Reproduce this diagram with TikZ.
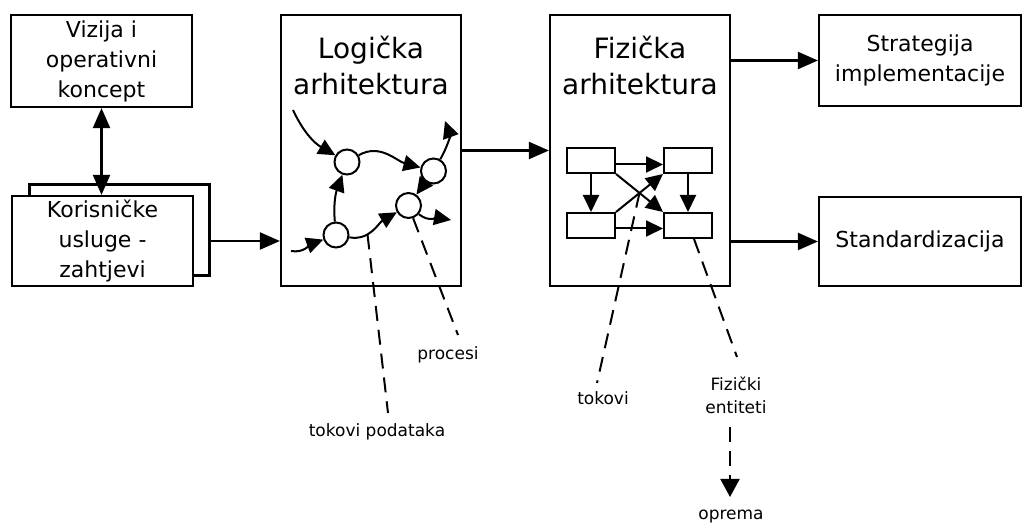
\documentclass[tikz,border=0pt]{standalone}
\usepackage{fontspec}
\setmainfont{DejaVu Sans}
\usetikzlibrary{arrows.meta,calc}

\tikzset{
  okvir/.style={draw,line width=2.2pt,inner sep=0pt,align=center,font=\fontsize{22}{30}\selectfont},
  naslov/.style={align=center,font=\fontsize{28}{36}\selectfont},
  krug/.style={draw,circle,line width=2pt,minimum size=25pt,inner sep=0pt},
  blok/.style={draw,line width=2pt,minimum width=48pt,minimum height=25pt,inner sep=0pt},
  veza/.style={line width=2.2pt,-{Triangle[length=20pt,width=17pt]}},
  tok/.style={line width=2pt,-{Triangle[length=17pt,width=16pt]}},
  crt/.style={line width=2pt,dash pattern=on 15pt off 9pt},
  opis/.style={align=center,font=\fontsize{17}{23}\selectfont}
}

\begin{document}
\begin{tikzpicture}[x=1pt,y=1pt]
\useasboundingbox (0,0) rectangle (1022,524);
% lijevi stupac
\node[okvir,minimum width=181pt,minimum height=92pt] (vizija) at (101.5,463) {Vizija i\\operativni\\koncept};
\node[okvir,minimum width=180pt,minimum height=91pt] (usluge2) at (119.5,294) {};
\node[okvir,fill=white,minimum width=181pt,minimum height=90pt] (usluge) at (102.5,283) {Korisničke\\usluge -\\zahtjevi};
\draw[veza,{Triangle[length=20pt,width=17pt]}-{Triangle[length=20pt,width=17pt]}] (vizija.south) -- (vizija.south |- usluge.north);

% arhitekture
\node[okvir,minimum width=180pt,minimum height=271pt] (logicka) at (371,373.5) {};
\node[naslov] (logickaNaslov) at (371,458) {Logička\\arhitektura};
\node[okvir,minimum width=180pt,minimum height=271pt] (fizicka) at (640,373.5) {};
\node[naslov] (fizickaNaslov) at (640,458) {Fizička\\arhitektura};
\node[okvir,minimum width=202pt,minimum height=91pt] (strategija) at (920,463.5) {Strategija\\implementacije};
\node[okvir,minimum width=202pt,minimum height=89pt] (standard) at (920,282.5) {Standardizacija};

\draw[veza] (usluge.east -| usluge2.east) -- (usluge.east -| logicka.west);
\draw[veza] (logicka.east) -- (fizicka.west);
\draw[veza] (fizicka.east |- strategija.west) -- (strategija.west);
\draw[veza] (fizicka.east |- standard.west) -- (standard.west);

% procesi
\node[krug] (p1) at (347,362) {};
\node[krug] (p2) at (433.5,353) {};
\node[krug] (p3) at (408.5,318.5) {};
\node[krug] (p4) at (336,289) {};
\coordinate (ulaz1) at (293,414);
\coordinate (ulaz2) at (291,273);
\coordinate (izlaz1) at (445,403);
\coordinate (izlaz2) at (451,304);
\draw[tok] (ulaz1) to[out=-65,in=150] (p1);
\draw[tok] (p1) to[out=30,in=165] (p2);
\draw[tok] (p2) to[out=60,in=-70] (izlaz1);
\draw[tok] (p4) to[out=95,in=-110] (p1);
\draw[tok] (ulaz2) to[out=-10,in=-160] (p4);
\draw[tok] (p4) to[out=-10,in=-150] coordinate[pos=0.35] (d1) (p3);
\draw[tok] (p2) -- (p3);
\draw[tok] (p3) to[out=-40,in=170] (izlaz2);

\node[opis] (procesi) at (448,169) {procesi};
\node[opis] (podaci) at (377,92) {tokovi podataka};
\coordinate (kProcesi) at (458,189);
\coordinate (kPodaci) at (388,111);
\draw[crt] (p3.-70) -- (kProcesi);
\draw[crt] (d1) -- (kPodaci);

% fizicki entiteti
\node[blok] (r1) at (591,363.5) {};
\node[blok] (r2) at (688,363.5) {};
\node[blok] (r3) at (591,298.5) {};
\node[blok] (r4) at (688,298.5) {};
\draw[tok] ([yshift=-4pt]r1.east) -- ([yshift=-4pt]r2.west);
\draw[tok] ([yshift=-3pt]r3.east) -- ([yshift=-3pt]r4.west);
\draw[tok] (r1.south) -- (r3.north);
\draw[tok] (r2.south) -- (r4.north);
\draw[tok] (r1.south east) -- (r4.north west);
\draw[tok] (r3.north east) -- (r2.south west);
\coordinate (kriz) at ($(r1.south east)!0.5!(r4.north west)$);

\node[opis] (tokovi) at (603,126) {tokovi};
\node[opis] (entiteti) at (736,129) {Fizički\\entiteti};
\node[opis,anchor=south,inner sep=1pt] (oprema) at (731,0) {oprema};
\coordinate (kTokovi) at (597,141);
\coordinate (kEntiteti) at (737,167);
\coordinate (oVrh) at (730,97);
\coordinate (oDno) at (730,27);
\draw[crt] (kriz) -- (kTokovi);
\draw[crt] ([xshift=6pt]r4.south) -- (kEntiteti);
\draw[crt,-{Triangle[length=18pt,width=19pt]}] (oVrh) -- (oDno);
\end{tikzpicture}
\end{document}
